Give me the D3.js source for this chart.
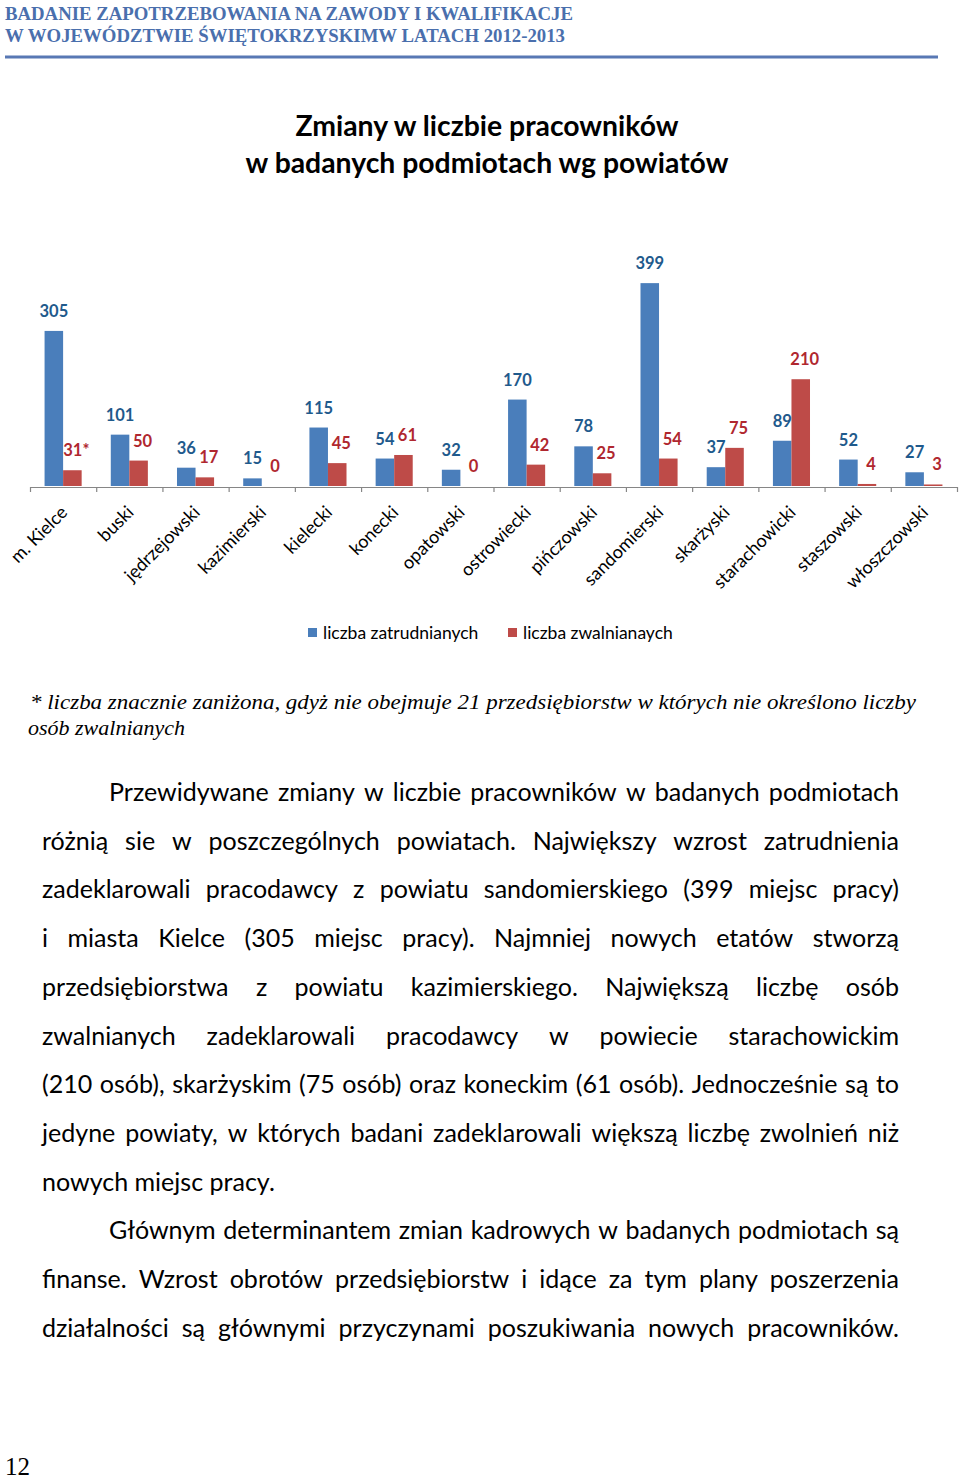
<!DOCTYPE html>
<html><head><meta charset="utf-8">
<script src="https://cdn.jsdelivr.net/npm/d3@7"></script>
<style>html,body{margin:0;padding:0;background:#fff;} svg{display:block}</style>
</head><body>
<svg id="page" width="960" height="1481"></svg>
<script>
// ---------- data ----------
const categories = ["m. Kielce","buski","jędrzejowski","kazimierski","kielecki","konecki","opatowski","ostrowiecki","pińczowski","sandomierski","skarżyski","starachowicki","staszowski","włoszczowski"];
const zatrudnianych = [305,101,36,15,115,54,32,170,78,399,37,89,52,27];
const zwalnianych   = [31,50,17,0,45,61,0,42,25,54,75,210,4,3];
const zwalnianychNote = ["*","","","","","","","","","","","","",""];
const seriesNames = ["liczba zatrudnianych","liczba zwalnianaych"];
const seriesColors = ["#4A7EBB","#BE4B48"];
const labelColors = ["#1F5A8C","#B0272F"];
const yDomain = [0,450];

const headerLines = ["BADANIE ZAPOTRZEBOWANIA NA ZAWODY I KWALIFIKACJE","W WOJEWÓDZTWIE ŚWIĘTOKRZYSKIMW LATACH 2012-2013"];
const titleLines = ["Zmiany w liczbie pracowników","w badanych podmiotach wg powiatów"];
const footnoteLines = ["* liczba znacznie zaniżona, gdyż nie obejmuje 21 przedsiębiorstw w których nie określono liczby","osób zwalnianych"];
const bodyLines = [
  {text:"Przewidywane  zmiany w liczbie pracowników w badanych podmiotach", indent:true, justify:true},
  {text:"różnią sie w poszczególnych powiatach. Największy wzrost zatrudnienia", indent:false, justify:true},
  {text:"zadeklarowali pracodawcy z powiatu sandomierskiego (399 miejsc pracy)", indent:false, justify:true},
  {text:"i miasta Kielce (305 miejsc pracy). Najmniej nowych etatów stworzą", indent:false, justify:true},
  {text:"przedsiębiorstwa z powiatu kazimierskiego. Największą liczbę osób", indent:false, justify:true},
  {text:"zwalnianych zadeklarowali pracodawcy w powiecie starachowickim", indent:false, justify:true},
  {text:"(210 osób), skarżyskim (75 osób) oraz koneckim (61 osób). Jednocześnie są to", indent:false, justify:true},
  {text:"jedyne powiaty, w których badani zadeklarowali większą liczbę zwolnień niż", indent:false, justify:true},
  {text:"nowych miejsc pracy.", indent:false, justify:false},
  {text:"Głównym determinantem zmian kadrowych w badanych podmiotach są", indent:true, justify:true},
  {text:"finanse. Wzrost obrotów przedsiębiorstw i idące za tym plany poszerzenia", indent:false, justify:true},
  {text:"działalności są głównymi przyczynami poszukiwania nowych pracowników.", indent:false, justify:true}
];
const pageNumber = "12";

// ---------- drawing ----------
const svg = d3.select("#page");

// header
const headerColor = "#4A6FAD";
headerLines.forEach((t,i)=>{
  svg.append("text").attr("x",5).attr("y",[19.5,41.5][i])
    .attr("font-family","Liberation Serif").attr("font-weight","bold").attr("font-size",18.5)
    .attr("fill",headerColor).attr("textLength",[568,560][i]).attr("lengthAdjust","spacingAndGlyphs")
    .text(t);
});
svg.append("line").attr("x1",5).attr("x2",938).attr("y1",57).attr("y2",57)
  .attr("stroke","#5878B4").attr("stroke-width",3);

// title
const tl = svg.append("g").selectAll("text").data(titleLines).join("text")
  .attr("x",487).attr("y",(d,i)=>[136,173][i]).attr("text-anchor","middle")
  .attr("font-family","Lato").attr("font-weight","bold").attr("font-size",26).attr("fill","#000")
  .text(d=>d);
{
  const w = tl.nodes()[1].getComputedTextLength();
  tl.attr("font-size", 26*483/w);
}

// chart
const baseY = 486;
const x0 = d3.scaleBand().domain(categories).range([30,957]).paddingInner(0.44).paddingOuter(0.22);
const x1 = d3.scaleBand().domain([0,1]).range([0,x0.bandwidth()]);
const y = d3.scaleLinear().domain(yDomain).range([baseY, baseY-228.8]);

const rows = categories.map((c,i)=>({c, vals:[zatrudnianych[i], zwalnianych[i]], note:zwalnianychNote[i]}));
const groups = svg.append("g").selectAll("g").data(rows).join("g")
  .attr("transform",d=>`translate(${x0(d.c)},0)`);
groups.selectAll("rect").data(d=>d.vals.map((v,k)=>({v,k}))).join("rect")
  .attr("x",d=>x1(d.k)).attr("width",x1.bandwidth())
  .attr("y",d=>y(d.v)).attr("height",d=>y(0)-y(d.v))
  .attr("fill",d=>seriesColors[d.k]);
groups.selectAll("text").data(d=>d.vals.map((v,k)=>({v,k,note:k===1?d.note:""}))).join("text")
  .attr("x",d=>x1(d.k)+x1.bandwidth()/2+(d.k===1?4:0))
  .attr("y",d=>y(d.v)-14)
  .attr("text-anchor","middle").attr("font-family","Lato").attr("font-weight","bold")
  .attr("font-size",16.5).attr("fill",d=>labelColors[d.k])
  .text(d=>d.v+d.note);

// axis with ticks at category boundaries
const xb = d3.scaleLinear().domain([0,categories.length]).range([30,957]);
const axG = svg.append("g").attr("transform",`translate(0,${baseY+1})`)
  .call(d3.axisBottom(xb).tickValues(d3.range(categories.length+1)).tickSize(5).tickSizeOuter(0).tickFormat(""));
axG.selectAll("path,line").attr("stroke","#868686").attr("stroke-width",1.2);

// category labels
svg.append("g").selectAll("text").data(categories).join("text")
  .attr("transform",d=>`translate(${x0(d)+x0.bandwidth()/2+1},${baseY+23}) rotate(-45)`)
  .attr("text-anchor","end").attr("dy","0.35em")
  .attr("font-family","Lato").attr("font-size",18).attr("fill","#000")
  .text(d=>d);

// legend
const legendX = [308,508];
const lg = svg.append("g").selectAll("g").data(seriesNames).join("g")
  .attr("transform",(d,i)=>`translate(${legendX[i]},628)`);
lg.append("rect").attr("width",9).attr("height",9).attr("fill",(d,i)=>seriesColors[i]);
lg.append("text").attr("x",15).attr("y",10.5).attr("font-family","Lato").attr("font-size",17.5).attr("fill","#000").text(d=>d);

// footnote
svg.selectAll("text.fn").data(footnoteLines).join("text").attr("class","fn")
  .attr("x",(d,i)=>[30,28][i]).attr("y",(d,i)=>[709,735][i])
  .attr("font-family","Liberation Serif").attr("font-style","italic").attr("font-size",22).attr("fill","#000")
  .each(function(d,i){ if(i===0){ d3.select(this).attr("textLength",886).attr("lengthAdjust","spacingAndGlyphs"); } })
  .text(d=>d);

// body text, justified
const bodyLeft = 42, bodyRight = 899, indentX = 109, bodyTop = 801, lineGap = 48.7;
let bfs = 25.5;
const meas = svg.append("text").attr("font-family","Lato").attr("font-size",bfs);
const mw = s => { meas.text(s); return meas.node().getComputedTextLength(); };
let scale = 1;
const spaceW0 = mw("a a") - 2*mw("a");
bodyLines.forEach(l=>{
  const words = l.text.split(/\s+/);
  const nat = d3.sum(words, mw) + (words.length-1)*spaceW0;
  const avail = bodyRight - (l.indent?indentX:bodyLeft);
  scale = Math.min(scale, avail/nat*0.99);
});
bfs = bfs*scale;
meas.attr("font-size",bfs);
const spaceW = mw("a a") - 2*mw("a");
const bodyG = svg.append("g");
bodyLines.forEach((l,li)=>{
  const words = l.text.split(/\s+/);
  const widths = words.map(mw);
  const start = l.indent?indentX:bodyLeft;
  const avail = bodyRight - start;
  const gap = l.justify && words.length>1 ? (avail - d3.sum(widths))/(words.length-1) : spaceW;
  const t = bodyG.append("text").attr("y", bodyTop + li*lineGap)
    .attr("font-family","Lato").attr("font-size",bfs).attr("fill","#000");
  let cx = start;
  words.forEach((w,wi)=>{
    t.append("tspan").attr("x",cx).text(w);
    cx += widths[wi] + gap;
  });
});
meas.remove();

// page number
svg.append("text").attr("x",5).attr("y",1475).attr("font-family","Liberation Serif")
  .attr("font-size",25).attr("fill","#000").text(pageNumber);
</script>
</body></html>
